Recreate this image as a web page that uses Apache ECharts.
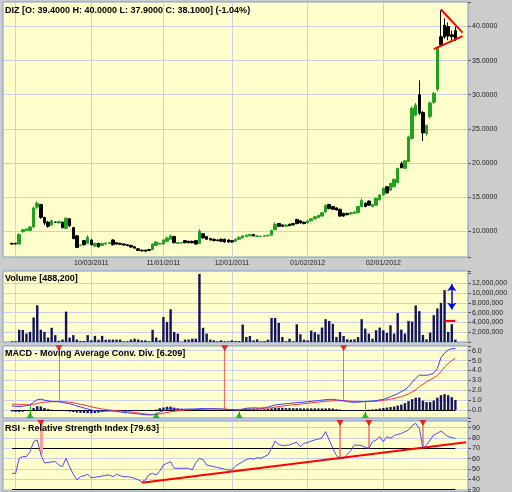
<!DOCTYPE html>
<html>
<head>
<meta charset="utf-8">
<script src="https://cdn.jsdelivr.net/npm/echarts@6/dist/echarts.min.js"></script>
<style>
  html, body { margin: 0; padding: 0; background: #cccccc; }
  #chart { width: 512px; height: 492px; }
</style>
</head>
<body>
<div id="chart"></div>
<script>
// DIZ daily chart: candles + volume + MACD + RSI, four stacked panels sharing one
// category axis. Bars live in slots 2..125 of 129 so the plot keeps the empty
// margin the original has on both sides.

const LEAD = 2
const SLOTS = 129

// [open, high, low, close] per trading day
const OHLC = [
  [8.2, 8.3, 8.0, 8.1], [8.2, 8.3, 8.0, 8.1], [8.1, 9.7, 8.0, 9.5], [9.9, 10.3, 9.8, 10.2], [10.1, 10.4, 10.0, 10.3],
  [10.1, 10.7, 10.0, 10.6], [10.6, 13.6, 10.5, 13.4], [13.5, 14.4, 13.2, 14.1], [13.9, 14.0, 11.8, 12.0], [12.0, 12.1, 10.9, 11.2],
  [11.3, 11.5, 10.5, 10.7], [10.9, 11.7, 10.8, 11.5], [11.3, 11.4, 11.2, 11.3], [11.2, 11.5, 11.1, 11.4], [11.3, 11.4, 10.4, 10.5],
  [10.4, 12.0, 10.3, 11.9], [11.8, 11.9, 10.6, 10.8], [10.5, 10.6, 8.8, 8.9], [9.3, 9.4, 7.5, 7.6], [7.9, 8.0, 7.8, 7.95],
  [8.6, 8.7, 7.9, 8.0], [8.2, 9.4, 8.1, 9.1], [8.7, 8.8, 7.9, 8.0], [7.8, 8.3, 7.7, 8.2], [8.2, 8.3, 7.6, 7.7],
  [7.9, 8.3, 7.8, 8.2], [8.1, 8.3, 8.0, 8.25], [8.2, 8.35, 8.1, 8.3], [8.7, 8.8, 7.9, 8.0], [8.3, 8.4, 8.0, 8.1],
  [8.2, 8.3, 8.0, 8.05], [8.1, 8.2, 7.9, 7.95], [8.0, 8.1, 7.8, 7.85], [7.9, 8.0, 7.6, 7.65], [7.7, 7.8, 7.5, 7.5],
  [7.4, 7.5, 7.1, 7.15], [7.2, 7.3, 7.0, 7.1], [7.2, 7.3, 7.0, 7.05], [7.3, 7.4, 7.1, 7.15], [7.3, 8.2, 7.2, 8.1],
  [7.9, 8.5, 7.8, 8.4], [8.1, 8.3, 8.0, 8.2], [8.1, 8.8, 8.0, 8.7], [8.5, 9.2, 8.4, 9.0], [8.8, 9.5, 8.7, 9.3],
  [9.2, 9.3, 8.2, 8.3], [8.2, 8.4, 8.1, 8.3], [8.25, 8.35, 8.2, 8.3], [8.6, 8.7, 8.2, 8.3], [8.5, 8.6, 8.2, 8.3],
  [8.5, 8.6, 8.2, 8.3], [8.6, 8.7, 8.0, 8.1], [8.2, 10.3, 8.1, 10.0], [9.6, 9.7, 8.9, 9.0], [9.2, 9.3, 8.7, 8.8],
  [8.9, 9.0, 8.6, 8.7], [8.8, 8.9, 8.5, 8.6], [8.7, 8.8, 8.5, 8.6], [8.8, 8.9, 8.4, 8.5], [8.8, 8.9, 8.3, 8.4],
  [8.7, 8.8, 8.3, 8.4], [8.6, 8.7, 8.3, 8.4], [8.5, 8.9, 8.4, 8.8], [8.8, 9.2, 8.7, 9.1], [9.0, 9.4, 8.9, 9.3],
  [9.2, 9.5, 9.1, 9.4], [9.3, 9.6, 9.2, 9.5], [9.5, 9.6, 9.2, 9.3], [9.2, 9.35, 9.15, 9.3], [9.2, 9.3, 9.15, 9.25],
  [9.25, 9.35, 9.2, 9.3], [9.3, 9.45, 9.25, 9.4], [9.4, 10.2, 9.35, 10.1], [10.2, 11.3, 10.1, 11.0], [11.1, 11.2, 10.6, 10.7],
  [10.9, 11.0, 10.6, 10.7], [10.7, 11.0, 10.6, 10.9], [11.0, 11.1, 10.7, 10.8], [11.1, 11.2, 10.8, 10.9], [11.7, 11.8, 11.0, 11.1],
  [11.5, 11.6, 11.1, 11.2], [11.3, 11.4, 11.0, 11.1], [11.2, 11.6, 11.1, 11.5], [11.5, 11.9, 11.4, 11.8], [11.8, 12.2, 11.7, 12.1],
  [12.0, 12.4, 11.9, 12.3], [12.2, 12.8, 12.1, 12.7], [12.8, 13.9, 12.7, 13.8], [13.9, 14.0, 13.2, 13.3], [13.6, 13.7, 13.1, 13.2],
  [13.4, 13.5, 13.0, 13.1], [13.2, 13.3, 12.1, 12.2], [12.6, 12.7, 12.1, 12.2], [12.6, 12.7, 12.3, 12.4], [12.5, 12.8, 12.4, 12.7],
  [12.6, 12.9, 12.5, 12.8], [12.7, 13.7, 12.6, 13.6], [13.6, 14.8, 13.5, 14.5], [14.1, 14.2, 13.5, 13.6], [14.4, 14.5, 13.7, 13.8],
  [13.6, 14.0, 13.5, 13.9], [13.8, 14.9, 13.7, 14.8], [14.6, 15.4, 14.5, 15.3], [15.3, 16.4, 15.2, 16.3], [16.5, 16.6, 15.5, 15.6],
  [16.0, 17.1, 15.9, 17.0], [16.5, 17.7, 16.4, 17.6], [17.1, 19.3, 17.0, 19.2], [19.9, 20.2, 19.2, 19.3], [19.2, 20.4, 19.1, 20.3],
  [20.2, 24.0, 20.1, 23.8], [23.6, 28.3, 23.4, 28.0], [27.0, 28.8, 26.8, 28.5], [30.0, 32.1, 27.0, 27.3], [27.4, 27.6, 23.2, 24.4],
  [24.3, 25.6, 24.0, 25.5], [26.8, 29.0, 26.5, 28.8], [28.9, 30.4, 28.6, 30.2], [30.8, 37.1, 30.5, 36.8], [38.5, 42.4, 37.0, 37.3],
  [40.2, 41.2, 38.2, 38.5], [40.0, 40.6, 38.0, 38.6], [38.8, 39.4, 38.0, 38.5], [39.4, 40.0, 37.9, 38.1],
]

// volume, millions of shares
const VOLUME_M = [
  0.15, 0.15, 2.5, 2.45, 1.73, 2.07, 5.0, 7.5, 2.5, 2.07,
  0.9, 2.9, 1.4, 0.25, 0.5, 6.2, 0.9, 1.4, 0.5, 0.2,
  0.2, 1.4, 0.35, 1.25, 0.45, 1.25, 0.45, 0.5, 0.5, 0.5,
  0.5, 0.15, 0.15, 0.5, 0.68, 0.5, 0.35, 0.35, 0.15, 2.5,
  0.9, 0.35, 5.1, 4.1, 6.7, 2.05, 1.7, 0.05, 0.5, 0.5,
  0.68, 0.68, 13.9, 2.9, 1.7, 0.5, 0.35, 0.15, 0.35, 0.15,
  0.15, 0.35, 0.2, 0.2, 3.56, 1.03, 1.23, 0.34, 0.55, 0.14,
  0.2, 0.48, 4.9, 4.9, 3.9, 1.03, 0.14, 0.68, 0.14, 3.6,
  1.58, 0.48, 0.34, 2.33, 2.0, 1.58, 2.95, 4.66, 4.3, 3.7,
  1.03, 2.05, 1.23, 0.55, 0.48, 0.55, 1.03, 4.66, 2.74, 1.71,
  0.68, 2.4, 2.95, 2.4, 1.85, 3.42, 1.71, 5.9, 2.53, 1.71,
  4.3, 4.18, 7.47, 6.3, 1.44, 0.55, 1.92, 5.48, 6.85, 8.0,
  10.6, 2.05, 3.63, 0.4882,
]

const MACD = [
  0.40, 0.38, 0.34, 0.38, 0.45, 0.51, 0.80, 1.05, 1.10, 1.00,
  0.92, 0.86, 0.85, 0.84, 0.76, 0.70, 0.62, 0.53, 0.40, 0.30,
  0.20, 0.10, 0.00, -0.07, -0.10, -0.10, -0.10, -0.10, -0.11, -0.15,
  -0.20, -0.25, -0.28, -0.32, -0.36, -0.40, -0.44, -0.48, -0.50, -0.48,
  -0.42, -0.22, -0.07, 0.08, 0.17, 0.12, 0.08, 0.08, 0.08, 0.09,
  0.10, 0.11, 0.14, 0.15, 0.13, 0.13, 0.12, 0.11, 0.10, 0.08,
  0.04, 0.02, 0.00, 0.02, 0.10, 0.17, 0.20, 0.22, 0.20, 0.20,
  0.23, 0.30, 0.42, 0.52, 0.56, 0.60, 0.63, 0.67, 0.70, 0.74,
  0.77, 0.80, 0.84, 0.88, 0.92, 0.96, 1.00, 1.04, 1.08, 1.08,
  1.03, 0.98, 0.93, 0.85, 0.79, 0.78, 0.80, 0.83, 0.86, 0.89,
  0.91, 0.95, 1.02, 1.08, 1.20, 1.35, 1.50, 1.65, 1.86, 2.05,
  2.36, 2.80, 3.20, 3.54, 3.52, 3.50, 3.60, 3.75, 4.20, 5.30,
  5.75, 6.07, 6.22, 6.209,
]

const SIGNAL = [
  0.60, 0.58, 0.56, 0.55, 0.54, 0.52, 0.58, 0.66, 0.74, 0.79,
  0.82, 0.84, 0.85, 0.85, 0.84, 0.82, 0.78, 0.73, 0.66, 0.58,
  0.50, 0.42, 0.33, 0.24, 0.17, 0.10, 0.05, 0.00, -0.04, -0.07,
  -0.10, -0.14, -0.17, -0.21, -0.25, -0.30, -0.35, -0.40, -0.44, -0.47,
  -0.46, -0.40, -0.32, -0.25, -0.17, -0.12, -0.07, -0.04, -0.01, 0.01,
  0.03, 0.05, 0.07, 0.09, 0.10, 0.11, 0.11, 0.11, 0.10, 0.09,
  0.07, 0.05, 0.04, 0.03, 0.04, 0.06, 0.08, 0.10, 0.12, 0.14,
  0.16, 0.19, 0.24, 0.30, 0.34, 0.39, 0.44, 0.48, 0.52, 0.56,
  0.60, 0.64, 0.68, 0.72, 0.76, 0.80, 0.84, 0.88, 0.91, 0.93,
  0.94, 0.94, 0.94, 0.92, 0.89, 0.87, 0.86, 0.85, 0.85, 0.86,
  0.87, 0.89, 0.93, 0.98, 1.03, 1.10, 1.17, 1.25, 1.35, 1.48,
  1.62, 1.83, 2.05, 2.35, 2.60, 2.85, 3.05, 3.25, 3.50, 3.90,
  4.35, 4.70, 5.00, 5.23,
]

const HIST = [
  -0.15, -0.18, -0.20, -0.17, -0.10, -0.03, 0.20, 0.38, 0.36, 0.21,
  0.10, 0.02, 0.00, -0.01, -0.08, -0.12, -0.16, -0.20, -0.26, -0.28,
  -0.30, -0.32, -0.33, -0.31, -0.27, -0.20, -0.15, -0.10, -0.07, -0.08,
  -0.10, -0.11, -0.11, -0.11, -0.11, -0.10, -0.09, -0.08, -0.06, -0.01,
  0.04, 0.18, 0.25, 0.33, 0.34, 0.24, 0.15, 0.12, 0.09, 0.08,
  0.07, 0.06, 0.07, 0.06, 0.03, 0.02, 0.01, 0.00, 0.00, -0.02,
  -0.03, -0.03, -0.04, -0.01, 0.06, 0.11, 0.12, 0.12, 0.08, 0.06,
  0.07, 0.11, 0.18, 0.22, 0.22, 0.21, 0.19, 0.19, 0.18, 0.18,
  0.17, 0.16, 0.16, 0.16, 0.16, 0.16, 0.16, 0.16, 0.17, 0.15,
  0.09, 0.04, -0.01, -0.07, -0.10, -0.09, -0.06, -0.02, 0.01, 0.03,
  0.06, 0.10, 0.15, 0.20, 0.25, 0.30, 0.35, 0.45, 0.55, 0.70,
  0.90, 1.10, 1.25, 1.25, 0.95, 0.80, 0.80, 0.95, 1.25, 1.50,
  1.60, 1.50, 1.30, 1.00,
]

const RSI = [
  45.8, 45.8, 60.4, 62.0, 62.0, 66.8, 76.5, 78.1, 64.0, 56.0,
  56.2, 57.0, 57.1, 53.9, 52.3, 60.4, 52.0, 45.0, 39.4, 42.6,
  43.5, 44.9, 41.6, 42.1, 42.6, 43.2, 43.8, 44.2, 42.6, 44.9,
  43.5, 42.6, 42.6, 42.0, 41.0, 39.5, 37.8, 39.4, 44.5, 45.8,
  44.2, 48.0, 53.9, 55.5, 57.1, 50.7, 50.7, 50.7, 50.7, 50.7,
  49.1, 56.0, 60.4, 59.0, 53.9, 53.0, 52.3, 51.5, 50.7, 49.8,
  49.1, 49.1, 53.0, 55.0, 57.1, 59.0, 60.4, 59.5, 61.0, 60.4,
  62.0, 63.6, 70.0, 77.1, 73.8, 72.6, 73.0, 73.3, 74.9, 75.8,
  71.6, 74.9, 75.5, 77.1, 78.1, 79.0, 80.4, 86.2, 78.1, 70.0,
  63.0, 60.4, 60.4, 64.0, 68.0, 73.3, 73.0, 72.6, 71.0, 70.0,
  76.5, 78.1, 81.3, 76.5, 81.3, 79.7, 82.3, 83.5, 84.5, 86.0,
  87.8, 92.0, 94.2, 89.4, 70.0, 73.3, 78.1, 83.0, 84.5, 86.8,
  84.0, 81.3, 80.4, 79.63,
]

// date labels and monthly grid lines (slot index)
const DATE_IDX = [24, 44, 63, 84, 105]
const DATE_LABELS = ['10/03/2011', '11/01/2011', '12/01/2011', '01/02/2012', '02/01/2012']
const GRID_IDX = [3, 24, 44, 63, 84, 105]

// drawn annotations: [slot, value]
const PENNANT_UP = [[121, 42.5], [127, 39.1]]
const PENNANT_LOW = [[119, 36.7], [127, 38.6]]
const VOL_LEVEL = [[122, 4.3e6], [125, 4.3e6]]
const VOL_ARROW = [[124, 11.8e6], [124, 6.65e6]]
const RSI_TREND = [[38, 36.6], [128, 75.9]]
const MACD_SELL = [15, 61, 94]
const MACD_BUY = [7, 42, 65, 100]
const RSI_SELL = [10, 93, 101, 116]
const RSI_BANDS = [70, 30]

const TITLES = [
  'DIZ [O: 39.4000 H: 40.0000 L: 37.9000 C: 38.1000] (-1.04%)',
  'Volume [488,200]',
  'MACD - Moving Average Conv. Div. [6.209]',
  'RSI - Relative Strength Index [79.63]',
]

const FONT = 'Arial, "Liberation Sans", sans-serif'
const YELLOW = '#ffffcc'
const GRIDC = '#cbcfe8'
const BORDER = '#7d9ad4'
const UP = '#22a022'
const NAVY = '#14145e'
const SELL = '#f07070'

const PANELS = [
  { top: 2, height: 255, title: 6 },
  { top: 271, height: 71, title: 274 },
  { top: 346, height: 72, title: 349 },
  { top: 421, height: 70, title: 424 },
]
const RANGES = [
  { min: 6.2, max: 43.6, step: 5 },
  { min: 0, max: 14.5e6, step: 2e6 },
  { min: -0.81, max: 6.48, step: 1 },
  { min: 28.7, max: 96.5, step: 10 },
]

const isStep = (v, s) => Math.abs(v / s - Math.round(v / s)) < 1e-6
const FORMATS = [
  (v) => (isStep(v, 5) ? v.toFixed(4) : ''),
  (v) => (v >= 2e6 && v <= 12e6 && isStep(v, 2e6) ? v.toLocaleString('en-US') : ''),
  (v) => (v >= 0 && isStep(v, 1) ? v.toFixed(1) : ''),
  (v) => (isStep(v, 10) ? String(Math.round(v)) : ''),
]

const CATS = Array.from({ length: SLOTS }, (_, i) => String(i))
const at = (arr) => arr.map((v, i) => [i + LEAD, v])
const LAST = LEAD + OHLC.length - 1

const monthLines = {
  z: 1, silent: true, symbol: 'none', label: { show: false }, emphasis: { disabled: true },
  lineStyle: { color: GRIDC, width: 1, type: 'solid' },
  data: GRID_IDX.map((i) => ({ xAxis: i })),
}

const segment = (pts, color, width) => ({
  type: 'line', data: pts, symbol: 'none', silent: true, z: 5,
  lineStyle: { color, width },
})

const chart = echarts.init(document.getElementById('chart'))

chart.setOption({
  animation: false,
  backgroundColor: '#cccccc',
  textStyle: { fontFamily: FONT },
  title: PANELS.map((p, k) => ({
    text: TITLES[k], left: 5, top: p.title, padding: 0,
    textStyle: { fontFamily: FONT, fontSize: 9, fontWeight: 'bold', color: '#000', lineHeight: 10 },
  })),
  grid: PANELS.map((p) => ({
    left: 3, right: 44, top: p.top, height: p.height,
    show: true, backgroundColor: YELLOW, borderColor: BORDER, borderWidth: 1,
    containLabel: false, outerBoundsMode: 'none',
  })),
  xAxis: PANELS.map((p, k) => ({
    type: 'category', gridIndex: k, data: CATS, boundaryGap: true,
    axisLine: { show: false }, axisTick: { show: false }, splitLine: { show: false },
    axisLabel: k === 0 ? {
      show: true, margin: 3, fontSize: 7, color: '#222', fontFamily: FONT,
      interval: (i) => DATE_IDX.includes(i),
      formatter: (v, i) => DATE_LABELS[DATE_IDX.indexOf(i)] || '',
    } : { show: false },
  })),
  yAxis: RANGES.map((r, k) => ({
    type: 'value', gridIndex: k, position: 'right',
    min: r.min, max: r.max, splitNumber: 7, minInterval: r.step, maxInterval: r.step,
    axisLine: { show: false },
    axisTick: { show: true, length: 3, lineStyle: { color: '#555' } },
    axisLabel: { margin: 4, fontSize: 7, color: '#222', fontFamily: FONT, formatter: FORMATS[k] },
    splitLine: {
      show: true, showMinLine: false, showMaxLine: false,
      lineStyle: { width: 1, color: k === 1 ? [GRIDC, GRIDC, GRIDC, GRIDC, GRIDC, GRIDC, 'rgba(0,0,0,0)'] : GRIDC },
    },
  })),
  series: [
    // price
    {
      type: 'candlestick', xAxisIndex: 0, yAxisIndex: 0, barWidth: 3,
      data: OHLC.map(([o, h, l, c], i) => [i + LEAD, o, c, l, h]),
      encode: { x: 0, y: [1, 2, 3, 4] },
      itemStyle: { color: UP, color0: '#000', borderColor: UP, borderColor0: '#000', borderWidth: 1 },
      markLine: monthLines,
    },
    { ...segment(PENNANT_UP, '#ff0000', 2), xAxisIndex: 0, yAxisIndex: 0 },
    { ...segment(PENNANT_LOW, '#ff0000', 2), xAxisIndex: 0, yAxisIndex: 0 },

    // volume
    {
      type: 'bar', xAxisIndex: 1, yAxisIndex: 1, barWidth: 2.4,
      data: at(VOLUME_M.map((v) => v * 1e6)),
      itemStyle: { color: NAVY },
      markLine: monthLines,
    },
    {
      ...segment(VOL_LEVEL, '#ff0000', 2), xAxisIndex: 1, yAxisIndex: 1,
      markLine: {
        silent: true, symbol: ['arrow', 'arrow'], symbolSize: 7, label: { show: false },
        lineStyle: { color: '#0000ff', width: 1.5, type: 'solid' },
        data: [[{ coord: VOL_ARROW[0] }, { coord: VOL_ARROW[1] }]],
      },
    },

    // MACD
    {
      type: 'bar', xAxisIndex: 2, yAxisIndex: 2, barWidth: 2.4,
      data: at(HIST), itemStyle: { color: NAVY },
      markLine: monthLines,
    },
    {
      type: 'line', xAxisIndex: 2, yAxisIndex: 2, data: at(SIGNAL), symbol: 'none', silent: true,
      lineStyle: { color: '#ff3030', width: 1 },
      markLine: {
        silent: true, symbol: 'none', label: { show: false }, z: 2,
        lineStyle: { color: '#000', width: 1, type: 'solid' },
        data: [[{ coord: [LEAD, 0] }, { coord: [LAST, 0] }]],
      },
    },
    {
      type: 'line', xAxisIndex: 2, yAxisIndex: 2, data: at(MACD), symbol: 'none', silent: true,
      lineStyle: { color: '#3b3bff', width: 1 },
    },
    {
      type: 'scatter', xAxisIndex: 2, yAxisIndex: 2, z: 4, silent: true,
      symbol: 'triangle', symbolSize: [7, 6], symbolRotate: 180,
      data: MACD_SELL.map((i) => [i, 6.25]), itemStyle: { color: '#e80000' },
      markLine: {
        silent: true, symbol: 'none', label: { show: false }, z: 3,
        lineStyle: { color: SELL, width: 1, type: 'solid' },
        data: MACD_SELL.map((i) => [{ coord: [i, RANGES[2].max] }, { coord: [i, MACD[i - LEAD]] }]),
      },
    },
    {
      type: 'scatter', xAxisIndex: 2, yAxisIndex: 2, z: 4, silent: true,
      symbol: 'triangle', symbolSize: [7, 6],
      data: MACD_BUY.map((i) => [i, -0.5]), itemStyle: { color: '#00b000' },
      markLine: {
        silent: true, symbol: 'none', label: { show: false }, z: 3,
        lineStyle: { color: '#30c030', width: 1, type: 'solid' },
        data: MACD_BUY.map((i) => [{ coord: [i, RANGES[2].min] }, { coord: [i, MACD[i - LEAD]] }]),
      },
    },

    // RSI
    {
      type: 'line', xAxisIndex: 3, yAxisIndex: 3, data: at(RSI), symbol: 'none', silent: true,
      lineStyle: { color: '#4848ff', width: 1 },
      markLine: monthLines,
    },
    {
      ...segment(RSI_TREND, '#ff0000', 2), xAxisIndex: 3, yAxisIndex: 3,
      markLine: {
        silent: true, symbol: 'none', label: { show: false }, z: 2,
        lineStyle: { color: '#000', width: 1, type: 'solid' },
        data: RSI_BANDS.map((b) => [{ coord: [LEAD, b] }, { coord: [LAST, b] }]),
      },
    },
    {
      type: 'scatter', xAxisIndex: 3, yAxisIndex: 3, z: 4, silent: true,
      symbol: 'triangle', symbolSize: [7, 6], symbolRotate: 180,
      data: RSI_SELL.map((i) => [i, 94.6]), itemStyle: { color: '#e80000' },
      markLine: {
        silent: true, symbol: 'none', label: { show: false }, z: 3,
        lineStyle: { color: SELL, width: 1.5, type: 'solid' },
        data: RSI_SELL.map((i, n) => [
          { coord: [i, RANGES[3].max], lineStyle: n === 0 ? { width: 3, color: '#f4a39a' } : {} },
          { coord: [i, RSI[i - LEAD]] },
        ]),
      },
    },
  ],
})
</script>
</body>
</html>
